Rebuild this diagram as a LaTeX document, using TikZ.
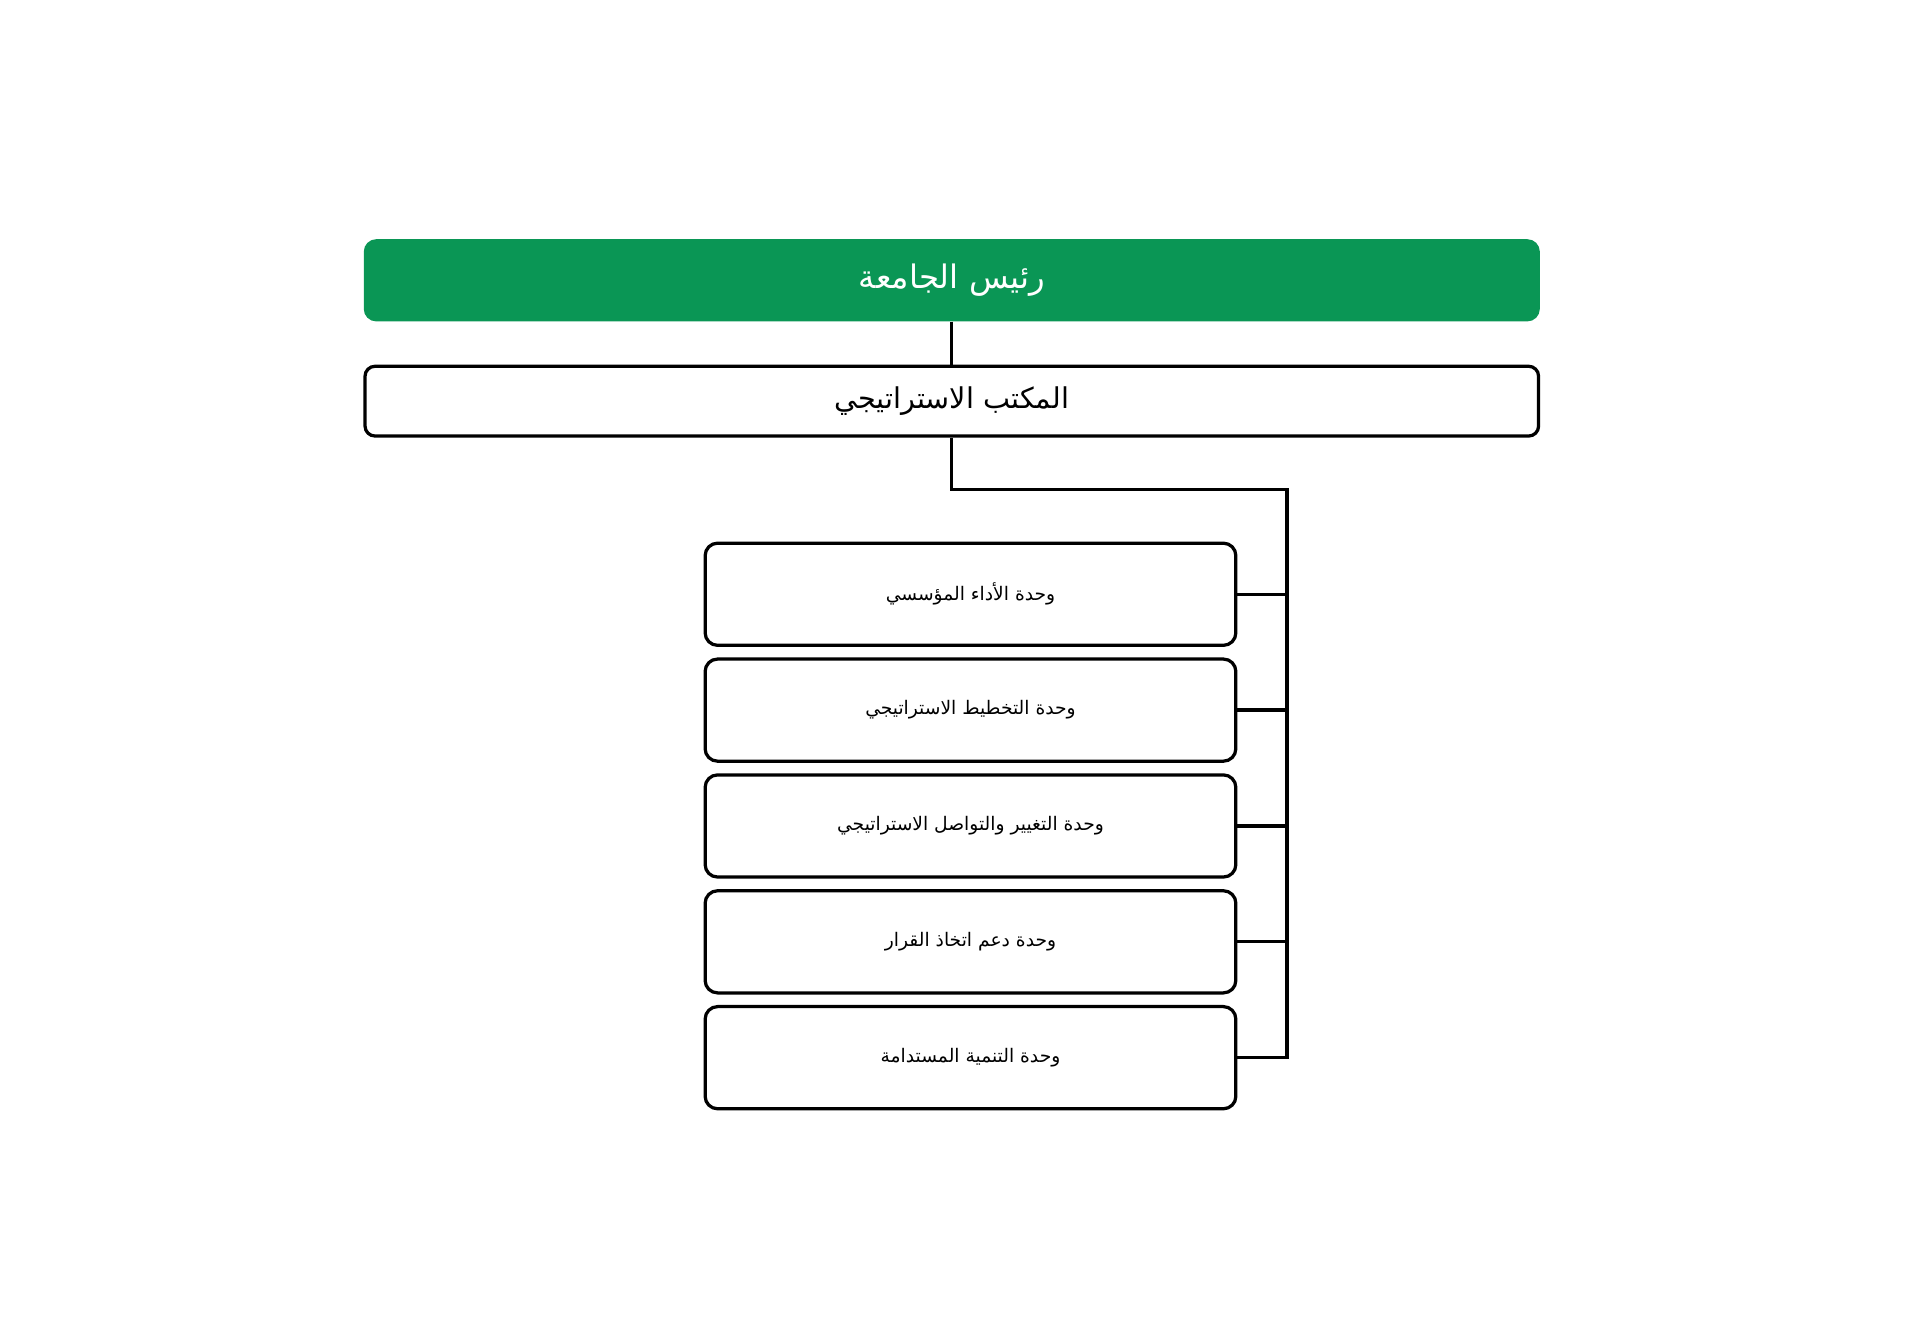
\documentclass[tikz,border=0pt]{standalone}
\usepackage{fontspec}
\newfontfamily\arabicfont[Script=Arabic]{DejaVu Sans}
\TeXXeTstate=1
\definecolor{hdgreen}{HTML}{0A9655}
\begin{document}
\begin{tikzpicture}[x=1pt,y=-1pt,
  unitbox/.style={draw=black,line width=2.6pt,rounded corners=10pt,minimum width=426pt,minimum height=82pt,font=\arabicfont\fontsize{15}{18}\selectfont},
  conn/.style={line width=2.6pt}]
\useasboundingbox (0,0) rectangle (1550,1067);
\node[fill=hdgreen,rounded corners=10pt,minimum width=944pt,minimum height=66pt,text=white,font=\arabicfont\fontsize{26}{30}\selectfont] (pres) at (764,225) {\beginR رئيس الجامعة\endR};
\node[draw=black,line width=2.6pt,rounded corners=8pt,minimum width=942pt,minimum height=56pt,font=\arabicfont\fontsize{23}{28}\selectfont] (off) at (764,322) {\beginR المكتب الاستراتيجي\endR};
\node[unitbox] (u1) at (779,477) {\beginR وحدة الأداء المؤسسي\endR};
\node[unitbox] (u2) at (779,570) {\beginR وحدة التخطيط الاستراتيجي\endR};
\node[unitbox] (u3) at (779,663) {\beginR وحدة التغيير والتواصل الاستراتيجي\endR};
\node[unitbox] (u4) at (779,756) {\beginR وحدة دعم اتخاذ القرار\endR};
\node[unitbox] (u5) at (779,849) {\beginR وحدة التنمية المستدامة\endR};
\coordinate (bend) at (764,393);
\coordinate (bendr) at (1033,393);
\draw[conn] (pres.south) -- (off.north);
\draw[conn] (off.south) -- (bend) -- (bendr) -- (bendr|-u5.east) -- (u5.east);
\foreach \u in {u1,u2,u3,u4} \draw[conn] (\u.east) -- (bendr|-\u.east);
\end{tikzpicture}
\end{document}
